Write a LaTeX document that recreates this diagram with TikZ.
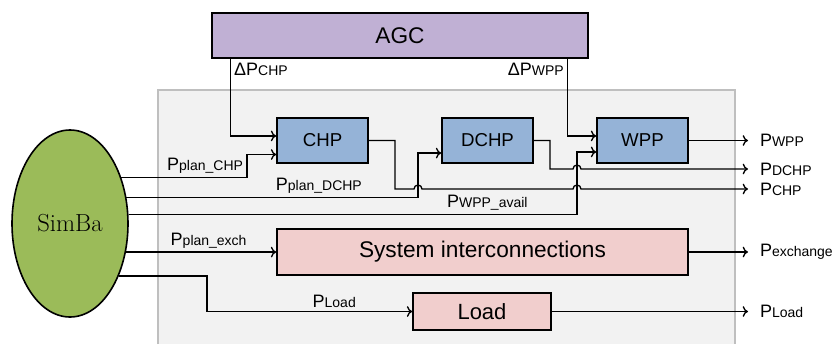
\documentclass[tikz,border=0pt]{standalone}
\usepackage{fontspec}
\setsansfont{Liberation Sans}
\usetikzlibrary{shapes.geometric}
\usetikzlibrary{arrows.meta}

\definecolor{agcpurple}{RGB}{192,176,212}
\definecolor{unitblue}{RGB}{149,179,215}
\definecolor{netpink}{RGB}{241,206,205}
\definecolor{simgreen}{RGB}{155,187,89}
\definecolor{areagray}{RGB}{242,242,242}
\definecolor{areaedge}{RGB}{191,191,191}

\newcommand{\Psig}[1]{P{\fontsize{10.5}{12}\selectfont #1}}

\tikzset{
  block/.style={draw,line width=1.2pt,inner sep=0pt,font=\sffamily\fontsize{14}{16}\selectfont},
  unit/.style={block,fill=unitblue,minimum width=68.25pt,minimum height=33.75pt},
  sig/.style={font=\sffamily\fontsize{13.5}{15}\selectfont,inner sep=2.5pt},
  outlbl/.style={sig,right,xshift=6pt},
}

\begin{document}
\begin{tikzpicture}[x=0.75pt,y=-0.75pt,line width=1pt,>={To[length=4pt,width=8pt]}]
\useasboundingbox (0,0) rectangle (840,344);
% grey area behind the units
\fill[areagray] (158,90) rectangle (735,344);
\draw[areaedge,line width=0.8pt] (158,344) -- (158,90) -- (735,90) -- (735,344);

\node[block,fill=agcpurple,minimum width=282pt,minimum height=33.75pt,font=\sffamily\fontsize{17}{19}\selectfont] (agc) at (400,35.5) {AGC};
\node[unit] (chp) at (322.5,140.5) {CHP};
\node[unit] (dchp) at (487.5,140.5) {DCHP};
\node[unit] (wpp) at (642.5,140.5) {WPP};
\node[block,fill=netpink,minimum width=308.25pt,minimum height=34.5pt,font=\sffamily\fontsize{17}{19}\selectfont] (sys) at (482.5,252) {System interconnections};
\node[block,fill=netpink,minimum width=103.5pt,minimum height=27.75pt,font=\sffamily\fontsize{16.5}{18}\selectfont] (load) at (482,311.5) {Load};
\node[ellipse,draw,line width=1.2pt,fill=simgreen,minimum width=87pt,minimum height=140.25pt,inner sep=0pt,font=\fontsize{18.5}{20}\selectfont] (simba) at (70,223.5) {SimBa};

% riser and output columns
\coordinate (xPC) at (247,0);
\coordinate (xCo) at (395,0);
\coordinate (xD) at (418,0);
\coordinate (xDo) at (550,0);
\coordinate (xW) at (577,0);
\coordinate (xL) at (207,0);
\coordinate (outW) at (748,142);
\coordinate (outD) at (748,169);
\coordinate (outC) at (748,189);

% AGC set points
\draw[->] ([xshift=14.25pt]agc.south west) node[sig,below right] {Δ\Psig{CHP}} |- ([yshift=3.4pt]chp.west);
\draw[->] ([xshift=-15.75pt]agc.south east) node[sig,below left] {Δ\Psig{WPP}} |- ([yshift=3.4pt]wpp.west);

% SimBa signals
\draw[->] (simba.42) -- (simba.42 -| xPC) node[sig,above left] {\Psig{plan\_CHP}} |- ([yshift=-10.5pt]chp.west);
\draw[->] (simba.25.5) -- (simba.25.5 -| xD) node[sig,above,pos=0.66] {\Psig{plan\_DCHP}} |- ([yshift=-9.4pt]dchp.west);
\draw[->] (simba.9.3) -- (simba.9.3 -| xW) node[sig,above,pos=0.8] {\Psig{WPP\_avail}} |- ([yshift=-8.6pt]wpp.west);
\draw[->] (simba.-27.3) -- (simba.-27.3 -| sys.west) node[sig,above,pos=0.55] {\Psig{plan\_exch}};
\draw[->] (simba.-47.6) -- (simba.-47.6 -| xL) |- (load.west) node[sig,above,pos=0.81] {\Psig{Load}};

% outputs
\draw[->] (wpp.east) -- (wpp.east -| outW) node[outlbl] {\Psig{WPP}};
\draw[->] (dchp.east) -| (xDo |- outD) -- ([xshift=-3pt]xW |- outD) arc[start angle=180,end angle=0,radius=3pt] -- (outD) node[outlbl] {\Psig{DCHP}};
\draw[->] (chp.east) -| (xCo |- outC) -- ([xshift=-3pt]xD |- outC) arc[start angle=180,end angle=0,radius=3pt] -- ([xshift=-3pt]xW |- outC) arc[start angle=180,end angle=0,radius=3pt] -- (outC) node[outlbl] {\Psig{CHP}};
\draw[->] (sys.east) -- (sys.east -| outW) node[outlbl] {\Psig{exchange}};
\draw[->] (load.east) -- (load.east -| outW) node[outlbl] {\Psig{Load}};
\end{tikzpicture}
\end{document}
